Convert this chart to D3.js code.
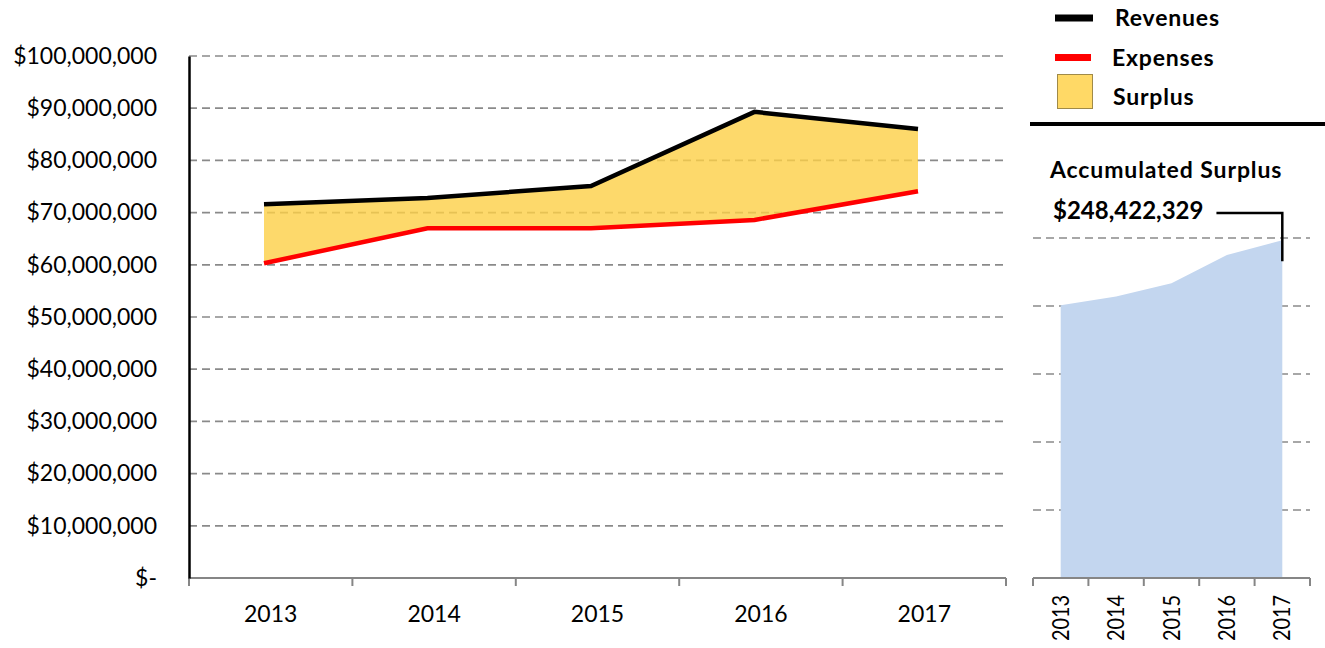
<!DOCTYPE html>
<html>
<head>
<meta charset="utf-8">
<script src="https://cdn.jsdelivr.net/npm/d3@7"></script>
<style>
  body { margin: 0; background: #fff; }
  svg { display: block; font-family: Lato, 'Open Sans', sans-serif; }
</style>
</head>
<body>
<svg id="chart" width="1325" height="648"></svg>
<script>
// Données
var years = ['2013', '2014', '2015', '2016', '2017']
var revenues = [71600000, 72800000, 75100000, 89300000, 86000000]
var expenses = [60300000, 67000000, 67000000, 68600000, 74100000]
var accumulated = [200600000, 207000000, 216800000, 237500000, 248422329]
var mainTicks = [0, 10000000, 20000000, 30000000, 40000000, 50000000, 60000000, 70000000, 80000000, 90000000, 100000000]
var accTicks = [50000000, 100000000, 150000000, 200000000, 250000000]
var legendItems = ['Revenues', 'Expenses', 'Surplus']
var accTitle = 'Accumulated Surplus'

// Mise en page
var main = { left: 189, right: 1006, top: 56, bottom: 578 }
var side = { left: 1033, right: 1310, top: 238, bottom: 578 }
var gridColor = '#8a8a8a'
var axisColor = '#868686'

var svg = d3.select('#chart')

function money (d) {
  return d === 0 ? '$-' : '$' + d3.format(',')(d)
}

function drawMain () {
  var xBand = d3.scaleBand().domain(years).range([main.left, main.right])
  var xPoint = d3.scalePoint().domain(years).range([264, 918])
  var y = d3.scaleLinear().domain([0, 100000000]).range([main.bottom, main.top])

  var g = svg.append('g').attr('class', 'main')

  // grille
  g.selectAll('.grid')
    .data(mainTicks.slice(1))
    .enter()
    .append('line')
    .attr('class', 'grid')
    .attr('x1', main.left)
    .attr('x2', main.right - 3)
    .attr('y1', function (d) { return y(d) })
    .attr('y2', function (d) { return y(d) })
    .attr('stroke', gridColor)
    .attr('stroke-width', 1.7)
    .attr('stroke-dasharray', '8,5')

  // surplus
  var area = d3.area()
    .x(function (d, i) { return xPoint(years[i]) })
    .y0(function (d, i) { return y(expenses[i]) })
    .y1(function (d, i) { return y(revenues[i]) })
  g.append('path')
    .datum(years)
    .attr('d', area)
    .attr('fill', '#fcd046')
    .attr('fill-opacity', 0.8)

  var line = function (values) {
    return d3.line()
      .x(function (d, i) { return xPoint(years[i]) })
      .y(function (d) { return y(d) })(values)
  }
  g.append('path').attr('d', line(expenses)).attr('fill', 'none')
    .attr('stroke', '#ff0000').attr('stroke-width', 4.5)
  g.append('path').attr('d', line(revenues)).attr('fill', 'none')
    .attr('stroke', '#000').attr('stroke-width', 4.5)

  // axe des abscisses
  var xAxis = g.append('g')
    .attr('transform', 'translate(0,' + main.bottom + ')')
    .call(d3.axisBottom(xBand).tickSize(0).tickPadding(28))
  xAxis.select('.domain').remove()
  xAxis.selectAll('text').attr('font-size', 23).attr('fill', '#000')
    .attr('font-family', 'Lato, sans-serif')
  xAxis.append('line')
    .attr('x1', main.left).attr('x2', main.right)
    .attr('stroke', axisColor).attr('stroke-width', 2)
  xAxis.selectAll('.bound')
    .data(years.map(function (d) { return xBand(d) }).concat([main.right]))
    .enter()
    .append('line')
    .attr('class', 'bound')
    .attr('x1', function (d) { return d }).attr('x2', function (d) { return d })
    .attr('y1', 0).attr('y2', 8)
    .attr('stroke', axisColor).attr('stroke-width', 2)

  // axe des ordonnées
  var yAxis = g.append('g')
    .attr('transform', 'translate(' + main.left + ',0)')
    .call(d3.axisLeft(y).tickValues(mainTicks).tickFormat(money).tickSize(0).tickPadding(32))
  yAxis.select('.domain').attr('stroke', '#000').attr('stroke-width', 2.5)
  yAxis.selectAll('text').attr('font-size', 23).attr('fill', '#000')
    .attr('font-family', 'Lato, sans-serif')
}

function drawSide () {
  var x = d3.scaleBand().domain(years).range([side.left, side.right])
  var y = d3.scaleLinear().domain([0, 250000000]).range([side.bottom, side.top])
  var cx = function (d) { return x(d) + x.bandwidth() / 2 }

  var g = svg.append('g').attr('class', 'side')

  g.selectAll('.grid')
    .data(accTicks)
    .enter()
    .append('line')
    .attr('class', 'grid')
    .attr('x1', side.left)
    .attr('x2', side.right)
    .attr('y1', function (d) { return y(d) })
    .attr('y2', function (d) { return y(d) })
    .attr('stroke', gridColor)
    .attr('stroke-width', 1.7)
    .attr('stroke-dasharray', '8,5')

  var area = d3.area()
    .x(function (d, i) { return cx(years[i]) })
    .y0(side.bottom)
    .y1(function (d) { return y(d) })
  g.append('path')
    .datum(accumulated)
    .attr('d', area)
    .attr('fill', '#c3d6ef')

  var xAxis = g.append('g')
    .attr('transform', 'translate(0,' + side.bottom + ')')
    .call(d3.axisBottom(x).tickSize(0))
  xAxis.select('.domain').remove()
  xAxis.selectAll('text')
    .attr('y', 0).attr('x', 0)
    .attr('dy', '0.35em')
    .attr('transform', 'translate(0,17) rotate(-90)')
    .attr('text-anchor', 'end')
    .attr('font-size', 23)
    .attr('textLength', 46)
    .attr('lengthAdjust', 'spacingAndGlyphs')
    .attr('fill', '#000')
    .attr('font-family', 'Lato, sans-serif')
  xAxis.append('line')
    .attr('x1', side.left).attr('x2', side.right)
    .attr('stroke', axisColor).attr('stroke-width', 2)
  xAxis.selectAll('.bound')
    .data(years.map(function (d) { return x(d) }).concat([side.right]))
    .enter()
    .append('line')
    .attr('class', 'bound')
    .attr('x1', function (d) { return d }).attr('x2', function (d) { return d })
    .attr('y1', 0).attr('y2', 8)
    .attr('stroke', axisColor).attr('stroke-width', 2)

  // titre et annotation
  g.append('text')
    .attr('x', 1050).attr('y', 170).attr('dy', '0.35em')
    .attr('font-size', 23).attr('font-weight', 'bold')
    .attr('letter-spacing', 0.9)
    .text(accTitle)

  var last = accumulated[accumulated.length - 1]
  var label = g.append('text')
    .attr('x', 1053).attr('y', 211).attr('dy', '0.35em')
    .attr('font-size', 24).attr('font-weight', 'bold')
    .text(money(last))
  var endX = 1053 + label.node().getComputedTextLength() + 13
  var lastX = cx(years[years.length - 1])
  g.append('path')
    .attr('d', 'M' + endX + ',213H' + lastX + 'V' + (y(last) + 21))
    .attr('fill', 'none').attr('stroke', '#000').attr('stroke-width', 2.5)
}

function drawLegend () {
  var legend = svg.append('g').attr('class', 'legend')

  legend.selectAll('.legend-item')
    .data(legendItems)
    .enter()
    .append('g')
    .attr('class', 'legend-item')
    .attr('transform', function (d, i) { return 'translate(0,' + (18 + i * 39.5) + ')' })
    .each(function (d, i) {
      var item = d3.select(this)
      if (i < 2) {
        item.append('line')
          .attr('x1', 1055).attr('x2', i === 0 ? 1093 : 1091)
          .attr('stroke', i === 0 ? '#000' : '#ff0000')
          .attr('stroke-width', 7)
      } else {
        item.append('rect')
          .attr('x', 1057.5).attr('y', -22.5)
          .attr('width', 35).attr('height', 34)
          .attr('fill', '#ffd966')
          .attr('stroke', '#a08a48')
          .attr('stroke-width', 1)
      }
      item.append('text')
        .attr('x', i === 0 ? 1115 : (i === 1 ? 1112 : 1113))
        .attr('dy', '0.35em')
        .attr('font-size', 23)
        .attr('font-weight', 'bold')
        .attr('letter-spacing', 0.8)
        .text(d)
    })

  legend.append('line')
    .attr('x1', 1030).attr('x2', 1325)
    .attr('y1', 124).attr('y2', 124)
    .attr('stroke', '#000').attr('stroke-width', 4)
}

drawMain()
drawSide()
drawLegend()
</script>
</body>
</html>
